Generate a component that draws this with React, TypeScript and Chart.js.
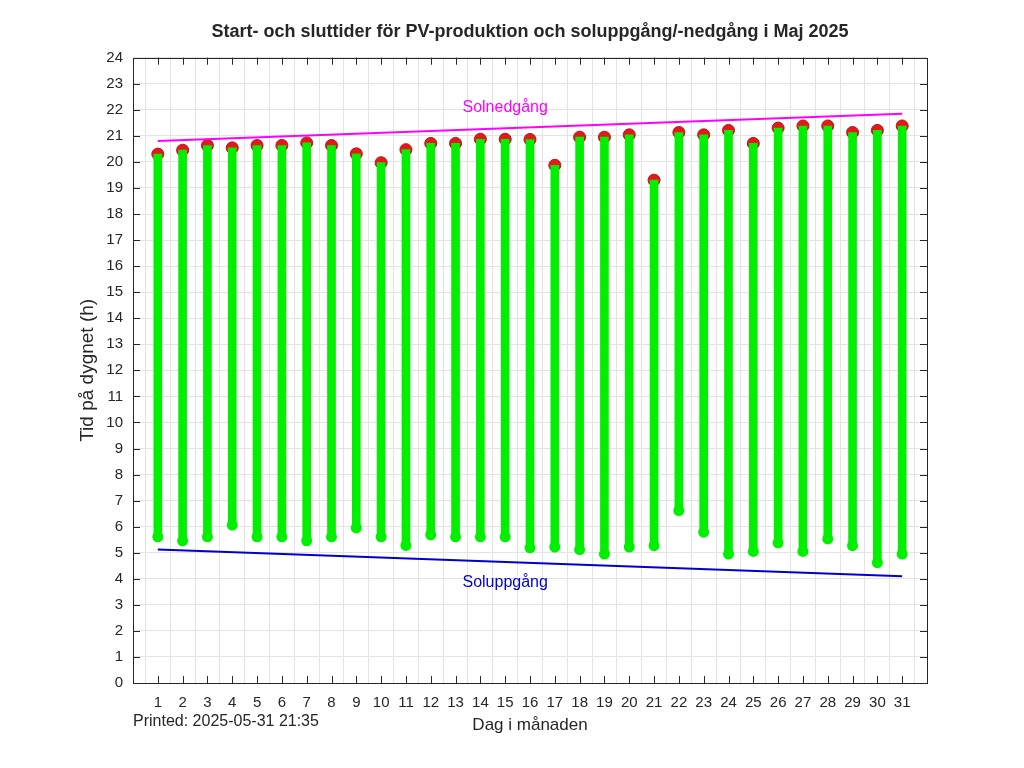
import { useEffect, useRef } from 'react'
import { Chart, registerables } from 'chart.js'
import type { ChartConfiguration, Plugin } from 'chart.js'

Chart.register(...registerables)

// Day of month (x axis)
const days = [1, 2, 3, 4, 5, 6, 7, 8, 9, 10, 11, 12, 13, 14, 15, 16, 17, 18, 19, 20, 21, 22, 23, 24, 25, 26, 27, 28, 29, 30, 31]

// PV production start / end (hours of the day)
const startTimes = [5.61, 5.46, 5.61, 6.06, 5.61, 5.61, 5.46, 5.61, 5.95, 5.61, 5.28, 5.69, 5.61, 5.61, 5.61, 5.19, 5.22, 5.12, 4.95, 5.22, 5.27, 6.62, 5.79, 4.95, 5.05, 5.38, 5.05, 5.53, 5.27, 4.62, 4.95]
const endTimes = [20.3, 20.45, 20.63, 20.54, 20.63, 20.63, 20.73, 20.63, 20.31, 19.97, 20.47, 20.71, 20.71, 20.87, 20.87, 20.86, 19.87, 20.95, 20.95, 21.04, 19.3, 21.13, 21.04, 21.21, 20.71, 21.3, 21.38, 21.38, 21.13, 21.21, 21.38]

// Sunrise / sunset lines (first and last day of the month)
const sunLineDays = [1, 31]
const sunriseTimes = [5.12, 4.1]
const sunsetTimes = [20.8, 21.85]

const TITLE = 'Start- och sluttider för PV-produktion och soluppgång/-nedgång i Maj 2025'
const X_TITLE = 'Dag i månaden'
const Y_TITLE = 'Tid på dygnet (h)'
const PRINTED = 'Printed: 2025-05-31 21:35'

const FONT = "'Liberation Sans', Arial, Helvetica, sans-serif"
const TEXT = '#262626'
const GRID = '#e3e3e3'
const GREEN = '#00f000'
const RED = '#e41a1a'
const MAGENTA = '#ff00ff'
const BLUE = '#0000d0'

// Octave-style box with inward tick marks, plus the in-plot labels
const frame: Plugin = {
  id: 'frame',
  afterDraw(chart) {
    const { ctx, chartArea: a, scales } = chart
    const xs = scales.x
    const ys = scales.y
    ctx.save()
    ctx.strokeStyle = TEXT
    ctx.lineWidth = 1
    ctx.strokeRect(Math.round(a.left) + 0.5, Math.round(a.top) + 0.5, Math.round(a.right - a.left), Math.round(a.bottom - a.top))
    ctx.beginPath()
    for (const d of days) {
      const px = Math.round(xs.getPixelForValue(d)) + 0.5
      ctx.moveTo(px, a.bottom)
      ctx.lineTo(px, a.bottom - 7)
      ctx.moveTo(px, a.top)
      ctx.lineTo(px, a.top + 7)
    }
    for (const t of ys.ticks) {
      const py = Math.round(ys.getPixelForValue(t.value)) + 0.5
      ctx.moveTo(a.left, py)
      ctx.lineTo(a.left + 7, py)
      ctx.moveTo(a.right, py)
      ctx.lineTo(a.right - 7, py)
    }
    ctx.stroke()

    ctx.font = `16px ${FONT}`
    ctx.textAlign = 'center'
    ctx.textBaseline = 'middle'
    ctx.fillStyle = MAGENTA
    ctx.fillText('Solnedgång', xs.getPixelForValue(15), ys.getPixelForValue(22.08))
    ctx.fillStyle = BLUE
    ctx.fillText('Soluppgång', xs.getPixelForValue(15), ys.getPixelForValue(3.84))

    ctx.fillStyle = TEXT
    ctx.textAlign = 'left'
    ctx.fillText(PRINTED, a.left, 722)
    ctx.restore()
  }
}

function PvChart() {
  const canvasRef = useRef<HTMLCanvasElement>(null)

  useEffect(() => {
    const canvas = canvasRef.current
    if (!canvas) return

    const config: ChartConfiguration = {
      type: 'bar',
      data: {
        datasets: [
          {
            type: 'line',
            data: sunLineDays.map((d, i) => ({ x: d, y: sunsetTimes[i] })),
            borderColor: MAGENTA,
            borderWidth: 2,
            pointRadius: 0,
            order: 0
          },
          {
            type: 'line',
            data: sunLineDays.map((d, i) => ({ x: d, y: sunriseTimes[i] })),
            borderColor: BLUE,
            borderWidth: 2,
            pointRadius: 0,
            order: 0
          },
          {
            type: 'scatter',
            data: days.map((d, i) => ({ x: d, y: startTimes[i] })),
            backgroundColor: GREEN,
            borderWidth: 0,
            pointRadius: 5.5,
            order: 1
          },
          {
            type: 'bar',
            data: days.map((d, i) => ({ x: d, y: [startTimes[i], endTimes[i]] })) as any,
            backgroundColor: GREEN,
            borderWidth: 0,
            borderSkipped: false,
            barThickness: 8,
            order: 2
          },
          {
            type: 'scatter',
            data: days.map((d, i) => ({ x: d, y: endTimes[i] })),
            backgroundColor: RED,
            borderColor: '#b81414',
            borderWidth: 1,
            pointRadius: 6,
            order: 3
          }
        ]
      },
      options: {
        responsive: true,
        maintainAspectRatio: false,
        animation: false,
        layout: { padding: { left: 75, right: 97, top: 0, bottom: 30 } },
        plugins: {
          legend: { display: false },
          tooltip: { enabled: false },
          title: {
            display: true,
            text: TITLE,
            color: TEXT,
            fullSize: false,
            font: { family: FONT, size: 18, weight: 'bold' },
            padding: { top: 21.2, bottom: 14.9 }
          }
        },
        scales: {
          x: {
            type: 'linear',
            min: 0,
            max: 32,
            offset: false,
            afterFit: (s) => { s.height = 55 },
            grid: { color: GRID, drawTicks: false },
            border: { display: false },
            ticks: {
              stepSize: 1,
              autoSkip: false,
              maxRotation: 0,
              padding: 11,
              color: TEXT,
              font: { family: FONT, size: 15 },
              callback: (v) => (Number(v) >= 1 && Number(v) <= 31 ? String(v) : '')
            },
            title: {
              display: true,
              text: X_TITLE,
              color: TEXT,
              font: { family: FONT, size: 17 },
              padding: { top: 0, bottom: 2.3 }
            }
          },
          y: {
            type: 'linear',
            min: 0,
            max: 24,
            afterFit: (s) => { s.width = 58 },
            grid: { color: GRID, drawTicks: false },
            border: { display: false },
            ticks: {
              stepSize: 1,
              autoSkip: false,
              padding: 10,
              color: TEXT,
              font: { family: FONT, size: 15 }
            },
            title: {
              display: true,
              text: Y_TITLE,
              color: TEXT,
              font: { family: FONT, size: 19 },
              padding: { top: 1.5, bottom: 0 }
            }
          }
        }
      },
      plugins: [frame]
    }

    const chart = new Chart(canvas, config)
    return () => chart.destroy()
  }, [])

  return (
    <div style={{ position: 'fixed', left: 0, top: 0, width: 1024, height: 768, background: '#fff' }}>
      <canvas ref={canvasRef} />
    </div>
  )
}

export default function App() {
  return <PvChart />
}
